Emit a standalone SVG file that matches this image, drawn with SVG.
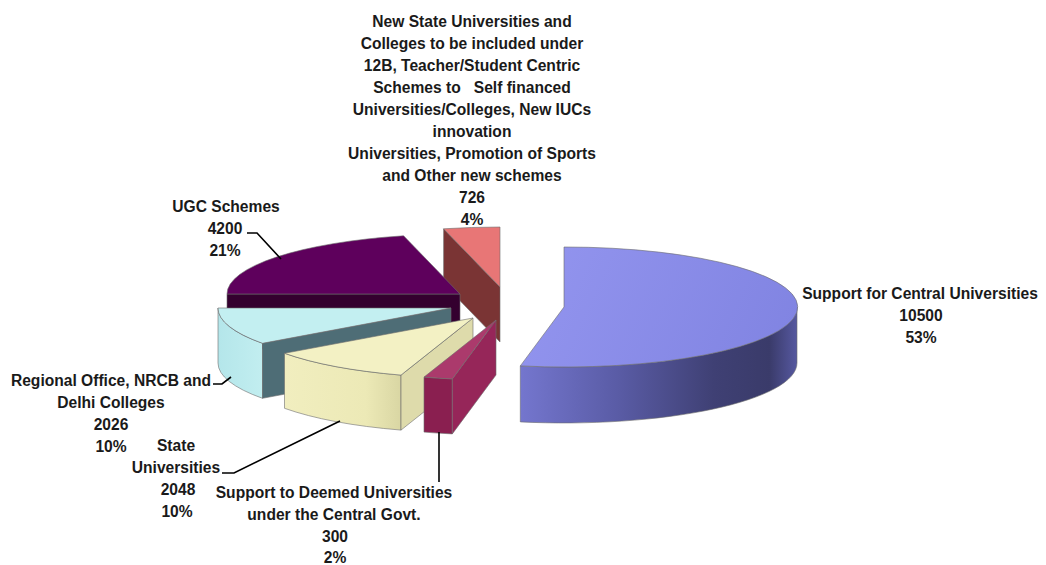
<svg xmlns="http://www.w3.org/2000/svg" width="1046" height="565" viewBox="0 0 1046 565">
<style>
  .t { font-family: "Liberation Sans", Arial, sans-serif; font-weight: bold; font-size: 15.6px; fill: #1a1a1a; text-anchor: middle; }
  .ld { fill: none; stroke: #000; stroke-width: 1.6; }
  .edge { stroke: #6d6d6d; stroke-width: 0.6; stroke-linejoin: round; }
</style>
<defs>
  <linearGradient id="blueSide" gradientUnits="userSpaceOnUse" x1="520" y1="0" x2="797" y2="0">
    <stop offset="0" stop-color="#7476ce"/>
    <stop offset="0.35" stop-color="#5a5ca6"/>
    <stop offset="0.7" stop-color="#3f4074"/>
    <stop offset="0.9" stop-color="#3a3b6a"/>
    <stop offset="1" stop-color="#5658a0"/>
  </linearGradient>
  <linearGradient id="blueTop" gradientUnits="userSpaceOnUse" x1="540" y1="250" x2="780" y2="360">
    <stop offset="0" stop-color="#9294ee"/>
    <stop offset="1" stop-color="#8184e2"/>
  </linearGradient>
  <linearGradient id="creamSide" gradientUnits="userSpaceOnUse" x1="284" y1="0" x2="401" y2="0">
    <stop offset="0" stop-color="#f1eebf"/>
    <stop offset="0.7" stop-color="#ece9b6"/>
    <stop offset="1" stop-color="#d9d6a3"/>
  </linearGradient>
  <linearGradient id="cyanSide" gradientUnits="userSpaceOnUse" x1="218" y1="0" x2="263" y2="0">
    <stop offset="0" stop-color="#b4e6ea"/>
    <stop offset="1" stop-color="#c2eef0"/>
  </linearGradient>
</defs>

<g id="slice-new-schemes">
  <path class="edge" d="M500,287 L443.6,228.8 L443.6,283.8 L500,342 Z" fill="#7a3434"/>
  <path class="edge" d="M500,287 L443.6,228.8 A233,60 0 0 1 500,227 Z" fill="#e87676"/>
  <text class="t" x="472" y="27">New State Universities and</text>
  <text class="t" x="472" y="49">Colleges to be included under</text>
  <text class="t" x="472" y="71">12B, Teacher/Student Centric</text>
  <text class="t" x="472" y="93" xml:space="preserve">Schemes to   Self financed</text>
  <text class="t" x="472" y="115">Universities/Colleges, New IUCs</text>
  <text class="t" x="472" y="137">innovation</text>
  <text class="t" x="472" y="159">Universities, Promotion of Sports</text>
  <text class="t" x="472" y="181">and Other new schemes</text>
  <text class="t" x="472" y="203">726</text>
  <text class="t" x="472" y="225">4%</text>
</g>

<g id="slice-ugc-schemes">
  <path class="edge" d="M460,294 L227,294 L227,349 L460,349 Z" fill="#34002f"/>
  <path class="edge" d="M460,294 L227,294 A233,60 0 0 1 403.6,235.8 Z" fill="#5e005c"/>
  <text class="t" x="226" y="212">UGC Schemes</text>
  <text class="t" x="225" y="234">4200</text>
  <text class="t" x="225" y="256">21%</text>
</g>

<g id="slice-regional-office">
  <path class="edge" d="M262.5,343.3 A233,60 0 0 1 218,308 L218,363 A233,60 0 0 0 262.5,398.3 Z" fill="url(#cyanSide)"/>
  <path class="edge" d="M451,308 L262.5,343.3 L262.5,398.3 L451,363 Z" fill="#4e6d76"/>
  <path class="edge" d="M451,308 L262.5,343.3 A233,60 0 0 1 218,308 Z" fill="#c3eff1"/>
  <text class="t" x="111" y="386">Regional Office, NRCB and</text>
  <text class="t" x="111" y="408">Delhi Colleges</text>
  <text class="t" x="111" y="430">2026</text>
  <text class="t" x="111" y="452">10%</text>
</g>

<g id="slice-state-universities">
  <path class="edge" d="M401,375.1 A233,60 0 0 1 284.5,353.3 L284.5,408.3 A233,60 0 0 0 401,430.1 Z" fill="url(#creamSide)"/>
  <path class="edge" d="M473,318 L401,375.1 L401,430.1 L473,373 Z" fill="#dedbab"/>
  <path class="edge" d="M473,318 L401,375.1 A233,60 0 0 1 284.5,353.3 Z" fill="#f3f1c4"/>
  <text class="t" x="176" y="451">State</text>
  <text class="t" x="176" y="473">Universities</text>
  <text class="t" x="178" y="495">2048</text>
  <text class="t" x="177" y="517">10%</text>
</g>

<g id="slice-deemed-universities">
  <path class="edge" d="M452.3,378.9 A233,60 0 0 1 424,377.1 L424,432.1 A233,60 0 0 0 452.3,433.9 Z" fill="#8a1f50"/>
  <path class="edge" d="M496,320 L452.3,378.9 L452.3,433.9 L496,375 Z" fill="#962659"/>
  <path class="edge" d="M496,320 L452.3,378.9 A233,60 0 0 1 424,377.1 Z" fill="#ab3a6c"/>
  <text class="t" x="334" y="498">Support to Deemed Universities</text>
  <text class="t" x="334" y="520">under the Central Govt.</text>
  <text class="t" x="335" y="542">300</text>
  <text class="t" x="335" y="563">2%</text>
</g>

<g id="slice-central-universities">
  <path class="edge" d="M797,307 A233,60 0 0 1 520.3,365.9 L520.3,421.9 A233,60 0 0 0 797,363 Z" fill="url(#blueSide)"/>
  <path class="edge" d="M564,307 L564,247 A233,60 0 1 1 520.3,365.9 Z" fill="url(#blueTop)"/>
  <text class="t" x="920" y="299">Support for Central Universities</text>
  <text class="t" x="921" y="321">10500</text>
  <text class="t" x="921" y="343">53%</text>
</g>

<g id="connectors">
  <path class="ld" d="M247,233 H257 L281,259"/>
  <path class="ld" d="M213,384 H222 L231,377"/>
  <path class="ld" d="M222,473 H234 L340,421"/>
  <path class="ld" d="M439,432 V482"/>
</g>
</svg>
